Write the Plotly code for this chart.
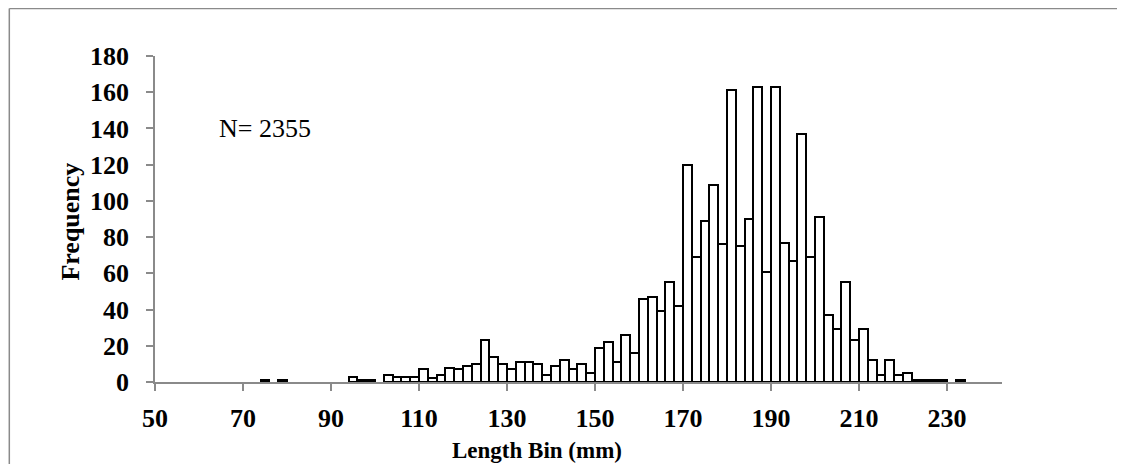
import plotly.graph_objects as go

# 2 mm length bins (bin centres, mm) and fish counts
bin_centers = [
    75, 79,
    95, 97, 99,
    103, 105, 107, 109, 111, 113, 115, 117, 119, 121, 123,
    125, 127, 129, 131, 133, 135, 137, 139, 141, 143, 145, 147, 149,
    151, 153, 155, 157, 159, 161, 163, 165, 167, 169,
    171, 173, 175, 177, 179, 181, 183, 185, 187, 189,
    191, 193, 195, 197, 199, 201, 203, 205, 207, 209,
    211, 213, 215, 217, 219, 221, 223, 225, 227, 229,
    233,
]
frequencies = [
    1, 1,
    3, 1, 1,
    4, 3, 3, 3, 7, 2, 4, 8, 7, 9, 10,
    23, 14, 10, 7, 11, 11, 10, 4, 9, 12, 7, 10, 5,
    19, 22, 11, 26, 16, 46, 47, 39, 55, 42,
    120, 69, 89, 109, 76, 161, 75, 90, 163, 61,
    163, 77, 67, 137, 69, 91, 37, 29, 55, 23,
    29, 12, 4, 12, 4, 5, 1, 1, 1, 1,
    1,
]
x_ticks = [50, 70, 90, 110, 130, 150, 170, 190, 210, 230]
y_ticks = [0, 20, 40, 60, 80, 100, 120, 140, 160, 180]
sample_note = "N= 2355"

FONT = "Times New Roman, Liberation Serif, serif"
AXIS_GREY = "#8a8a8a"

fig = go.Figure(
    go.Bar(
        x=bin_centers,
        y=frequencies,
        width=2,
        marker=dict(color="white", line=dict(color="black", width=2)),
        showlegend=False,
    )
)

# grey chart frame: only the top and left edges show in the original
frame = dict(type="line", xref="paper", yref="paper", layer="below",
             line=dict(color=AXIS_GREY, width=1.5))
fig.add_shape(x0=-0.172, x1=1.2, y0=1.146, y1=1.146, **frame)
fig.add_shape(x0=-0.172, x1=-0.172, y0=-0.35, y1=1.146, **frame)

fig.add_annotation(
    x=75,
    y=140,
    xref="x",
    yref="y",
    text=sample_note,
    showarrow=False,
    font=dict(family=FONT, size=26, color="black"),
)

# axis titles placed by hand to sit where the original has them
fig.add_annotation(
    x=-0.1,
    y=0.493,
    xref="paper",
    yref="paper",
    xanchor="center",
    yanchor="middle",
    text="Frequency",
    textangle=-90,
    showarrow=False,
    font=dict(family=FONT, size=26, weight="bold", color="black"),
)
fig.add_annotation(
    x=0.451,
    y=-0.21,
    xref="paper",
    yref="paper",
    xanchor="center",
    yanchor="middle",
    text="Length Bin (mm)",
    showarrow=False,
    font=dict(family=FONT, size=23, weight="bold", color="black"),
)

# sized so the page (with the default 8px body margin) needs no scrollbar
fig.update_layout(
    width=1109,
    height=456,
    margin=dict(l=147, r=115, t=48, b=82),
    paper_bgcolor="white",
    plot_bgcolor="white",
    bargap=0,
    font=dict(family=FONT, color="black"),
)
fig.update_xaxes(
    range=[50, 242.5],
    tickvals=x_ticks,
    ticks="outside",
    ticklen=7,
    tickwidth=1.5,
    tickcolor=AXIS_GREY,
    showline=True,
    linecolor=AXIS_GREY,
    linewidth=1.5,
    showgrid=False,
    zeroline=False,
    automargin=False,
    ticklabelstandoff=5,
    tickfont=dict(family=FONT, size=26, weight="bold", color="black"),
)
fig.update_yaxes(
    range=[0, 180],
    tickvals=y_ticks,
    ticks="outside",
    ticklen=7,
    tickwidth=1.5,
    tickcolor=AXIS_GREY,
    showline=True,
    linecolor=AXIS_GREY,
    linewidth=1.5,
    showgrid=False,
    zeroline=False,
    automargin=False,
    ticklabelstandoff=12,
    tickfont=dict(family=FONT, size=26, weight="bold", color="black"),
)

fig.write_html("out.html")
